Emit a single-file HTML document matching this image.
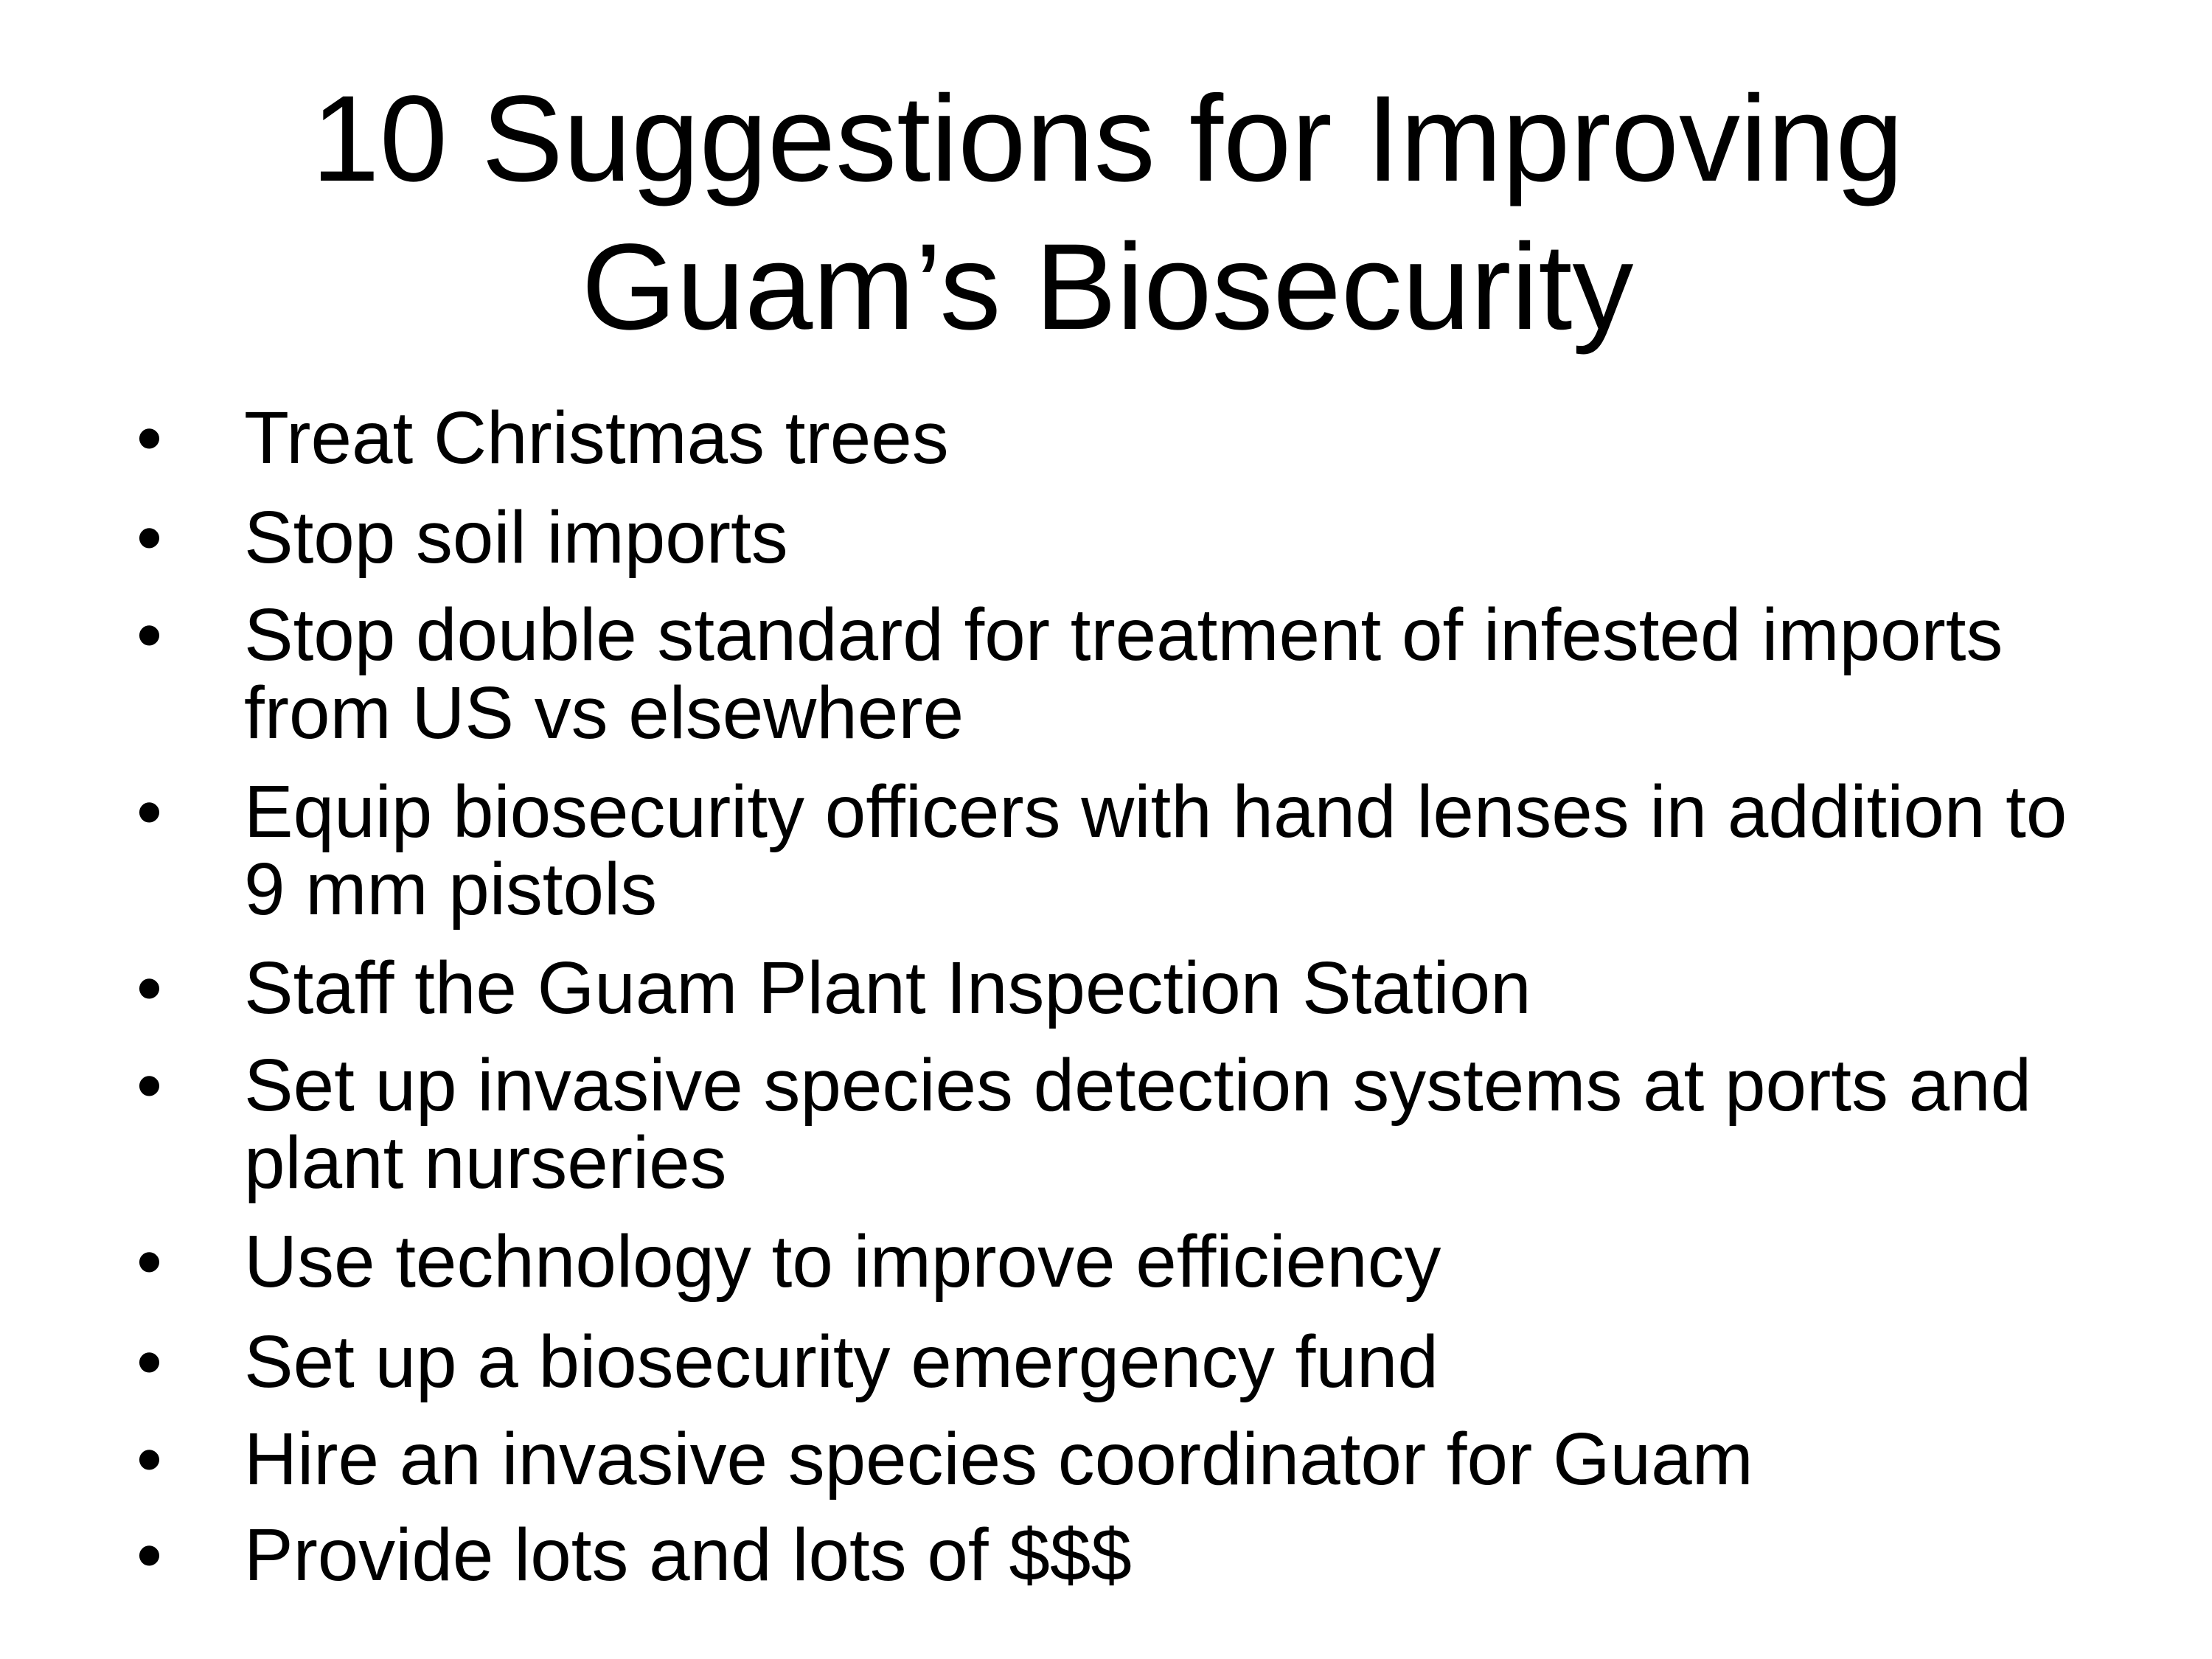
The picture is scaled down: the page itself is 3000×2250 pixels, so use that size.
<!DOCTYPE html>
<html><head><meta charset="utf-8"><style>
html,body{margin:0;padding:0;background:#fff;}
svg{display:block;}
text{font-family:"Liberation Sans",Arial,sans-serif;fill:#000;}
</style></head><body>
<svg width="3000" height="2250" viewBox="0 0 3000 2250">
<rect width="3000" height="2250" fill="#fff"/>
<g font-size="166" text-anchor="middle">
<text x="1502" y="245">10 Suggestions for Improving</text>
<text x="1502" y="446">Guam’s Biosecurity</text>
</g>
<g font-size="99.8">
<text x="185" y="628">•</text>
<text x="331" y="628">Treat Christmas trees</text>
<text x="185" y="763">•</text>
<text x="331" y="763">Stop soil imports</text>
<text x="185" y="895">•</text>
<text x="331" y="895">Stop double standard for treatment of infested imports</text>
<text x="331" y="1001">from US vs elsewhere</text>
<text x="185" y="1135">•</text>
<text x="331" y="1135">Equip biosecurity officers with hand lenses in addition to</text>
<text x="331" y="1240">9 mm pistols</text>
<text x="185" y="1374">•</text>
<text x="331" y="1374">Staff the Guam Plant Inspection Station</text>
<text x="185" y="1506">•</text>
<text x="331" y="1506">Set up invasive species detection systems at ports and</text>
<text x="331" y="1611">plant nurseries</text>
<text x="185" y="1745">•</text>
<text x="331" y="1745">Use technology to improve efficiency</text>
<text x="185" y="1881">•</text>
<text x="331" y="1881">Set up a biosecurity emergency fund</text>
<text x="185" y="2013">•</text>
<text x="331" y="2013">Hire an invasive species coordinator for Guam</text>
<text x="185" y="2143">•</text>
<text x="331" y="2143">Provide lots and lots of $$$</text>
</g>
</svg>
</body></html>
